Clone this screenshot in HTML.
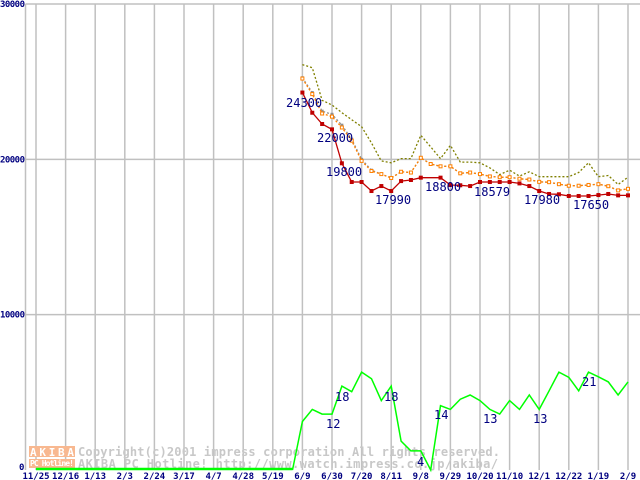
<!DOCTYPE html>
<html><head><meta charset="utf-8"><style>
html,body{margin:0;padding:0;background:#fff;}
svg{display:block;}
text{font-family:"DejaVu Sans Mono","Liberation Mono",monospace;}
</style></head><body>
<svg id="chart" width="640" height="480" viewBox="0 0 640 480" xmlns="http://www.w3.org/2000/svg"></svg>
<script>
const xTickLabels = ["11/25","12/16","1/13","2/3","2/24","3/17","4/7","4/28","5/19","6/9","6/30","7/20","8/11","9/8","9/29","10/20","11/10","12/1","12/22","1/19","2/9"];
const yTickValues = [0,10000,20000,30000];
const startIndex = 27;
const redPrice = [24300,23000,22275,21930,19745,18540,18540,17960,18280,17960,18600,18670,18820,18820,18820,18350,18330,18280,18540,18540,18540,18540,18450,18280,17960,17770,17750,17640,17640,17640,17700,17770,17680,17680];
const orangePrice = [25200,24200,22950,22750,22050,21200,19900,19250,19050,18800,19200,19150,20100,19700,19550,19550,19100,19150,19050,18900,18850,18850,18750,18700,18550,18530,18400,18300,18300,18350,18400,18270,18000,18100];
const grayPrice = [25250,24300,23100,22900,22200,21300,20000,19300,19050,18800,19200,19150,20100,19700,19550,19550,19100,19150,19050,18900,18850,18850,18750,18700,18550,18530,18400,18300,18300,18350,18400,18270,18000,18100];
const olivePrice = [26100,25900,23800,23500,23000,22550,22100,21050,19900,19780,20050,20050,21550,20800,20050,20900,19820,19820,19780,19450,19020,19300,18920,19200,18880,18880,18880,18880,19150,19780,18880,18960,18380,18850];
const shopCount = [0,10.4,13,12,12,18,16.8,21,19.6,14.9,18,6.2,4.1,4.1,0,13.8,13,15.2,16.1,14.9,13,12,14.9,13,16.1,13,17,21,19.9,17,21,20,18.9,16.1,18.9];
const priceLabels = [["24300",286,107],["22000",317,142],["19800",326,176],["17990",375,204],["18800",425,191],["18579",474,196],["17980",524,204],["17650",573,209]];
const countLabels = [["12",326,428],["18",335,401],["18",384,401],["4",417,466],["14",434,419],["13",483,423],["13",533,423],["21",582,386]];

const NS="http://www.w3.org/2000/svg";
const svg=document.getElementById('chart');
const X0=36, STEP=29.6/3, Y0=470, YS=466/30000, COUNT_UNIT=300;
const xOf=i=>X0+i*STEP;
const yOf=v=>Y0-v*YS;
function mk(tag,attrs,parent){const e=document.createElementNS(NS,tag);for(const k in attrs)e.setAttribute(k,attrs[k]);(parent||svg).appendChild(e);return e;}

const grid=mk('g',{});


yTickValues.forEach(v=>{if(v>0){const l=mk('line',{x1:25.5,x2:640,y1:yOf(v),y2:yOf(v),stroke:'#c0c0c0','stroke-width':1.5},grid);}});
xTickLabels.forEach((t,k)=>{const l=mk('line',{x1:xOf(k*3),x2:xOf(k*3),y1:4,y2:470,stroke:'#c0c0c0','stroke-width':1.5},grid);});
const ax=mk('line',{x1:25.5,x2:25.5,y1:4,y2:470,stroke:'#c0c0c0','stroke-width':1.5});



const wm=mk('g',{});


mk('rect',{x:29,y:446,width:46,height:11,fill:'#f8b890'},wm);
mk('rect',{x:29,y:459,width:46,height:9,fill:'#f8b890'},wm);
const lt=mk('text',{x:30,y:456,fill:'#fff','font-size':11,'font-weight':'bold',textLength:44},wm);lt.textContent='AKIBA';
const lt2=mk('text',{x:30,y:466,fill:'#fff','font-size':8,'font-weight':'bold',textLength:44},wm);lt2.textContent='PC Hotline!';
const w1=mk('text',{x:78,y:456,fill:'#c8c8c8','font-size':12,'font-weight':'bold',textLength:422},wm);w1.textContent='Copyright(c)2001 impress corporation All rights reserved.';
const w2=mk('text',{x:78,y:468,fill:'#c8c8c8','font-size':12,'font-weight':'bold',textLength:420},wm);w2.textContent='AKIBA PC Hotline!  http://www.watch.impress.co.jp/akiba/';

yTickValues.forEach(v=>{const s=String(v);const a={x:v==0?19:0,y:yOf(v)+(v==0?0:3),fill:'#000080','font-size':9,'font-weight':'bold'};if(s.length>1)a.textLength=25;const t=mk('text',a);t.textContent=s;});
xTickLabels.forEach((s,k)=>{const t=mk('text',{x:xOf(k*3),y:479,'text-anchor':'middle',fill:'#000080','font-size':9,'font-weight':'bold'});t.textContent=s;});

function pts(arr,off,fn){return arr.map((v,i)=>xOf(off+i).toFixed(1)+','+fn(v).toFixed(1)).join(' ');}
const gl=mk('polyline',{points:pts(shopCount,startIndex-1,v=>yOf(v*COUNT_UNIT)),fill:'none',stroke:'#00ff00','stroke-width':1.5});


const gz=mk('line',{x1:xOf(0),x2:xOf(startIndex-1),y1:yOf(0)-1,y2:yOf(0)-1,stroke:'#00ff00','stroke-width':2.5});



const ol=mk('polyline',{points:pts(olivePrice,startIndex,yOf),fill:'none',stroke:'#808000','stroke-width':1.3,'stroke-dasharray':'2,2'});


const gr=mk('polyline',{points:pts(grayPrice,startIndex,yOf),fill:'none',stroke:'#909090','stroke-width':1.3,'stroke-dasharray':'2,2'});


grayPrice.forEach((v,i)=>{const r=mk('rect',{x:xOf(startIndex+i)-1.5,y:yOf(v)-1.5,width:3,height:3,fill:'#909090'});});
const orl=mk('polyline',{points:pts(orangePrice,startIndex,yOf),fill:'none',stroke:'#ff8000','stroke-width':1.3,'stroke-dasharray':'2,2'});


orangePrice.forEach((v,i)=>{const r=mk('rect',{x:xOf(startIndex+i)-1.5,y:yOf(v)-1.5,width:3,height:3,fill:'#fff',stroke:'#ff8000','stroke-width':1});});
const rl=mk('polyline',{points:pts(redPrice,startIndex,yOf),fill:'none',stroke:'#c00000','stroke-width':1.3});


redPrice.forEach((v,i)=>{if(i==13)return;const r=mk('rect',{x:xOf(startIndex+i)-2,y:yOf(v)-2,width:4,height:4,fill:'#c00000'});});

priceLabels.forEach(([s,x,y])=>{const t=mk('text',{x:x,y:y,fill:'#000080','font-size':12,'font-family':'Liberation Sans, sans-serif'});t.textContent=s;});
countLabels.forEach(([s,x,y])=>{const t=mk('text',{x:x,y:y,fill:'#000080','font-size':12,'font-family':'Liberation Sans, sans-serif'});t.textContent=s;});
</script>
</body></html>
